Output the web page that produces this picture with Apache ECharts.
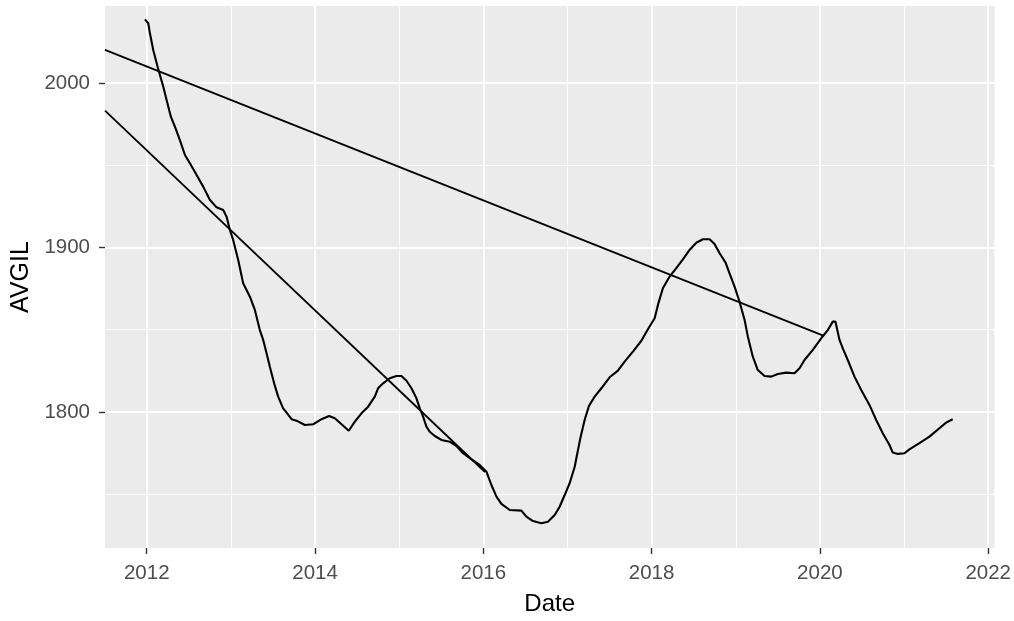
<!DOCTYPE html>
<html>
<head>
<meta charset="utf-8">
<script src="https://cdn.jsdelivr.net/npm/echarts@6/dist/echarts.min.js"></script>
<style>
  html, body { margin: 0; padding: 0; background: #ffffff; }
  #chart { width: 1014px; height: 621px; }
</style>
</head>
<body>
<div id="chart"></div>
<script>
// Rolling average of AVGIL, dates as decimal years
const dates = [
  2011.979, 2012.018, 2012.038, 2012.077, 2012.129, 2012.157, 2012.196, 2012.236, 2012.287, 2012.335,
  2012.394, 2012.454, 2012.513, 2012.593, 2012.671, 2012.751, 2012.830, 2012.909, 2012.949, 2012.988,
  2013.027, 2013.087, 2013.146, 2013.226, 2013.285, 2013.344, 2013.384, 2013.424, 2013.463, 2013.514,
  2013.562, 2013.621, 2013.653, 2013.721, 2013.780, 2013.879, 2013.977, 2014.077, 2014.167, 2014.235,
  2014.315, 2014.401, 2014.473, 2014.552, 2014.631, 2014.710, 2014.749, 2014.809, 2014.888, 2014.968,
  2015.027, 2015.087, 2015.146, 2015.205, 2015.245, 2015.277, 2015.304, 2015.324, 2015.363, 2015.423,
  2015.502, 2015.601, 2015.681, 2015.759, 2015.859, 2015.957, 2016.037, 2016.096, 2016.156, 2016.215,
  2016.314, 2016.452, 2016.512, 2016.590, 2016.690, 2016.768, 2016.848, 2016.907, 2016.967, 2017.026,
  2017.086, 2017.125, 2017.157, 2017.204, 2017.255, 2017.323, 2017.403, 2017.501, 2017.600, 2017.679,
  2017.778, 2017.878, 2017.956, 2018.036, 2018.080, 2018.134, 2018.214, 2018.293, 2018.372, 2018.451,
  2018.531, 2018.609, 2018.689, 2018.748, 2018.808, 2018.879, 2018.926, 2018.986, 2019.045, 2019.105,
  2019.144, 2019.203, 2019.262, 2019.342, 2019.422, 2019.500, 2019.600, 2019.698, 2019.758, 2019.817,
  2019.916, 2020.015, 2020.094, 2020.153, 2020.185, 2020.233, 2020.272, 2020.331, 2020.411, 2020.491,
  2020.589, 2020.669, 2020.747, 2020.827, 2020.866, 2020.925, 2021.005, 2021.064, 2021.183, 2021.302,
  2021.420, 2021.500, 2021.578
];
const avgil = [
  2038.7, 2036.3, 2030.2, 2020.1, 2009.9, 2004.9, 1997.8, 1989.7, 1979.5, 1973.4,
  1965.3, 1956.2, 1951.2, 1944.1, 1937.0, 1928.9, 1924.4, 1922.8, 1918.7, 1910.6,
  1904.6, 1892.4, 1878.2, 1870.1, 1862.0, 1849.8, 1843.8, 1835.7, 1827.5, 1817.4,
  1809.3, 1802.2, 1800.2, 1795.6, 1794.7, 1792.1, 1792.5, 1795.6, 1797.6, 1796.2,
  1792.5, 1788.6, 1794.1, 1799.2, 1803.2, 1809.3, 1814.4, 1817.4, 1820.5, 1821.9,
  1821.9, 1819.0, 1814.4, 1808.3, 1802.2, 1798.2, 1794.1, 1791.1, 1788.0, 1785.4,
  1783.0, 1781.9, 1779.3, 1774.9, 1771.2, 1767.8, 1763.7, 1755.6, 1748.5, 1744.1,
  1740.4, 1740.0, 1736.4, 1733.7, 1732.3, 1733.3, 1737.4, 1742.4, 1749.5, 1756.7,
  1766.7, 1776.9, 1785.0, 1795.1, 1803.6, 1809.3, 1814.4, 1821.1, 1825.1, 1830.6,
  1836.7, 1843.3, 1850.3, 1857.0, 1866.0, 1875.2, 1882.3, 1887.4, 1892.8, 1898.5,
  1902.9, 1905.0, 1905.0, 1902.1, 1896.5, 1890.8, 1884.3, 1876.2, 1867.0, 1855.9,
  1845.8, 1833.6, 1825.5, 1821.9, 1821.5, 1823.1, 1823.9, 1823.5, 1826.6, 1831.6,
  1837.7, 1844.8, 1849.8, 1854.9, 1854.9, 1843.8, 1838.7, 1831.6, 1821.5, 1813.4,
  1804.3, 1795.1, 1787.1, 1779.9, 1775.3, 1774.5, 1774.9, 1777.3, 1781.0, 1785.0,
  1790.1, 1793.5, 1795.6
];

// Two straight trend segments
const trendLongX = [2011.504, 2020.04];
const trendLongY = [2020.1, 1846.4];
const trendShortX = [2011.504, 2016.02];
const trendShortY = [1983.2, 1763.5];

// Axis ranges and tick values
const xRange = [2011.504, 2022.074];
const yRange = [1717.3, 2046.8];
const xMajor = [2012, 2014, 2016, 2018, 2020, 2022];
const xMinor = [2013, 2015, 2017, 2019, 2021];
const yMajor = [1800, 1900, 2000];
const yMinor = [1750, 1850, 1950];

const FONT = 'Liberation Sans, Arial, Helvetica, sans-serif';
const zip = (xs, ys) => xs.map((x, i) => [x, ys[i]]);

const chart = echarts.init(document.getElementById('chart'), null, { renderer: 'canvas' });

const hiddenAxisParts = {
  axisLine: { show: false },
  axisTick: { show: false },
  axisLabel: { show: false }
};

chart.setOption({
  animation: false,
  backgroundColor: '#ffffff',
  grid: {
    left: 105, right: 19, top: 6, bottom: 73,
    show: true, backgroundColor: '#EBEBEB', borderWidth: 0
  },
  xAxis: [
    {
      type: 'value', min: xRange[0], max: xRange[1],
      name: 'Date', nameLocation: 'middle', nameGap: 44,
      nameTextStyle: { fontFamily: FONT, fontSize: 24, color: '#000000' },
      axisLine: { show: false },
      axisTick: { show: true, length: 6, customValues: xMajor, lineStyle: { color: '#333333', width: 1.4 } },
      axisLabel: { customValues: xMajor, margin: 15, fontFamily: FONT, fontSize: 20.5, color: '#4D4D4D', formatter: v => String(v) },
      splitLine: { show: true, lineStyle: { color: '#ffffff', width: 1.8 } }
    },
    Object.assign({
      type: 'value', min: xRange[0], max: xRange[1], position: 'bottom',
      splitLine: { show: true, lineStyle: { color: '#ffffff', width: 0.9 } }
    }, hiddenAxisParts, { axisTick: { show: false, customValues: xMinor } })
  ],
  yAxis: [
    {
      type: 'value', min: yRange[0], max: yRange[1],
      name: 'AVGIL', nameLocation: 'middle', nameGap: 68,
      nameTextStyle: { fontFamily: FONT, fontSize: 25, color: '#000000' },
      axisLine: { show: false },
      axisTick: { show: true, length: 6, customValues: yMajor, lineStyle: { color: '#333333', width: 1.4 } },
      axisLabel: { customValues: yMajor, margin: 15, fontFamily: FONT, fontSize: 20.5, color: '#4D4D4D', formatter: v => String(v) },
      splitLine: { show: true, lineStyle: { color: '#ffffff', width: 1.8 } }
    },
    Object.assign({
      type: 'value', min: yRange[0], max: yRange[1], position: 'left',
      splitLine: { show: true, lineStyle: { color: '#ffffff', width: 0.9 } }
    }, hiddenAxisParts, { axisTick: { show: false, customValues: yMinor } })
  ],
  series: [
    {
      type: 'line', name: 'AVGIL', data: zip(dates, avgil),
      showSymbol: false, clip: true,
      lineStyle: { color: '#000000', width: 2.1 }
    },
    {
      type: 'line', data: zip(trendLongX, trendLongY),
      showSymbol: false, clip: true,
      lineStyle: { color: '#000000', width: 1.8 }
    },
    {
      type: 'line', data: zip(trendShortX, trendShortY),
      showSymbol: false, clip: true,
      lineStyle: { color: '#000000', width: 1.8 }
    }
  ]
});
</script>
</body>
</html>
